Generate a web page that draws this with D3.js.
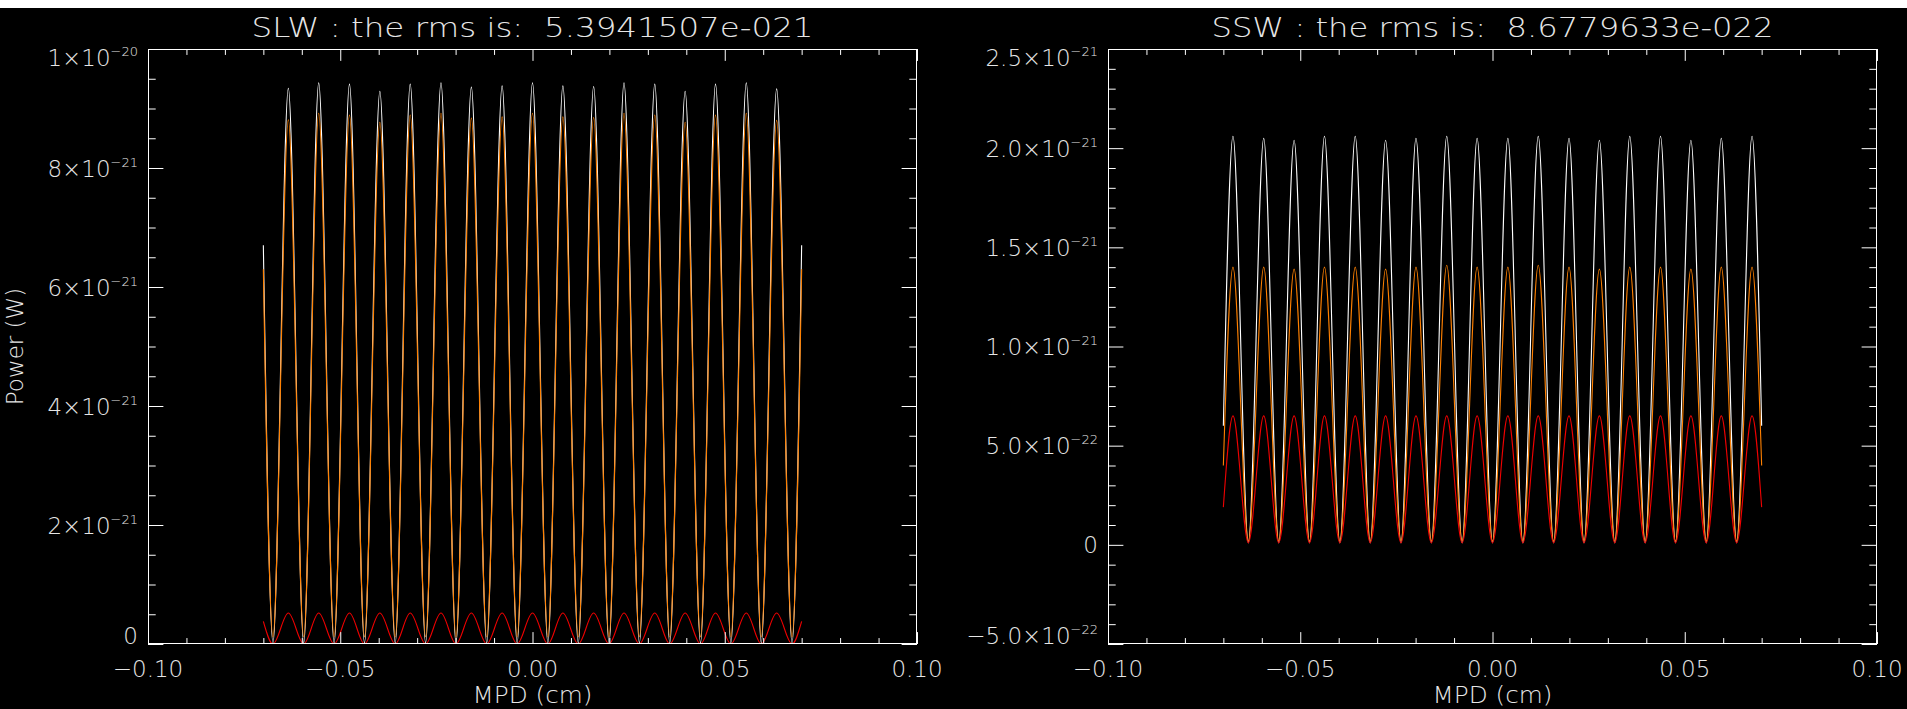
<!DOCTYPE html>
<html>
<head>
<meta charset="utf-8">
<script src="https://cdn.jsdelivr.net/npm/d3@7"></script>
<style>
html,body{margin:0;padding:0;background:#000;}
svg{display:block;}
text{font-family:"DejaVu Sans","Liberation Sans",sans-serif;font-weight:200;fill:#e6e6e6;}
</style>
</head>
<body>
<svg id="chart" width="1907" height="709"></svg>
<script>
// ---------------- DATA ----------------
// Power values are in units of 1e-21 W.
// Positions (cm) of the start, the alternating extremes and the end of each trace.
const mpdX = [-0.0700, -0.0675, -0.0635, -0.0595, -0.0556, -0.0516, -0.0476, -0.0437, -0.0397,
  -0.0357, -0.0318, -0.0278, -0.0238, -0.0199, -0.0159, -0.0119, -0.0079, -0.0040, 0.0000,
  0.0040, 0.0079, 0.0119, 0.0159, 0.0199, 0.0238, 0.0278, 0.0318, 0.0357, 0.0397, 0.0437,
  0.0476, 0.0516, 0.0556, 0.0595, 0.0635, 0.0675, 0.0700];

// SLW: troughs at -0.0675, -0.0595, ... ; peaks in between
const slwWhite = [6.70, 0.02, 9.34, 0.02, 9.43, 0.02, 9.41, 0.02, 9.29, 0.02, 9.41, 0.02, 9.43,
  0.02, 9.36, 0.02, 9.38, 0.02, 9.43, 0.02, 9.38, 0.02, 9.37, 0.02, 9.43, 0.02, 9.41, 0.02,
  9.29, 0.02, 9.41, 0.02, 9.43, 0.02, 9.33, 0.02, 6.70];
const slwOrange = [6.30, 0.12, 8.81, 0.12, 8.92, 0.12, 8.89, 0.12, 8.77, 0.12, 8.89, 0.12, 8.92,
  0.12, 8.84, 0.12, 8.86, 0.12, 8.92, 0.12, 8.86, 0.12, 8.85, 0.12, 8.92, 0.12, 8.89, 0.12,
  8.77, 0.12, 8.89, 0.12, 8.92, 0.12, 8.80, 0.12, 6.30];
const slwRed = [0.38, 0.00, 0.52, 0.00, 0.52, 0.00, 0.52, 0.00, 0.52, 0.00, 0.52, 0.00, 0.52,
  0.00, 0.52, 0.00, 0.52, 0.00, 0.52, 0.00, 0.52, 0.00, 0.52, 0.00, 0.52, 0.00, 0.52, 0.00,
  0.52, 0.00, 0.52, 0.00, 0.52, 0.00, 0.52, 0.00, 0.38];

// SSW: peaks at -0.0675, -0.0595, ... ; troughs in between
const sswWhite = [0.60, 2.06, 0.01, 2.05, 0.01, 2.04, 0.01, 2.06, 0.01, 2.06, 0.01, 2.04, 0.01,
  2.05, 0.01, 2.06, 0.01, 2.05, 0.01, 2.05, 0.01, 2.06, 0.01, 2.05, 0.01, 2.04, 0.01, 2.06,
  0.01, 2.06, 0.01, 2.04, 0.01, 2.05, 0.01, 2.06, 0.60];
const sswOrange = [0.40, 1.40, 0.02, 1.40, 0.02, 1.39, 0.02, 1.40, 0.02, 1.40, 0.02, 1.39, 0.02,
  1.40, 0.02, 1.41, 0.02, 1.40, 0.02, 1.40, 0.02, 1.41, 0.02, 1.40, 0.02, 1.39, 0.02, 1.40,
  0.02, 1.40, 0.02, 1.39, 0.02, 1.40, 0.02, 1.40, 0.40];
const sswRed = [0.19, 0.65, 0.01, 0.65, 0.01, 0.65, 0.01, 0.65, 0.01, 0.65, 0.01, 0.65, 0.01,
  0.65, 0.01, 0.65, 0.01, 0.65, 0.01, 0.65, 0.01, 0.65, 0.01, 0.65, 0.01, 0.65, 0.01, 0.65,
  0.01, 0.65, 0.01, 0.65, 0.01, 0.65, 0.01, 0.65, 0.19];

// Axis ticks and labels
const xTicks = [-0.10, -0.05, 0.00, 0.05, 0.10];
const xTickLabels = ["\u22120.10", "\u22120.05", "0.00", "0.05", "0.10"];
const slwYTicks = [0, 2, 4, 6, 8, 10];
const slwYMant = ["0", "2\u00d710", "4\u00d710", "6\u00d710", "8\u00d710", "1\u00d710"];
const slwYExp = ["", "\u221221", "\u221221", "\u221221", "\u221221", "\u221220"];
const sswYTicks = [-0.5, 0, 0.5, 1.0, 1.5, 2.0, 2.5];
const sswYMant = ["\u22125.0\u00d710", "0", "5.0\u00d710", "1.0\u00d710", "1.5\u00d710", "2.0\u00d710", "2.5\u00d710"];
const sswYExp = ["\u221222", "", "\u221222", "\u221221", "\u221221", "\u221221", "\u221221"];

const titles = ["SLW : the rms is:\u00a0\u00a05.3941507e-021", "SSW : the rms is:\u00a0\u00a08.6779633e-022"];
const xTitle = "MPD (cm)";
const yTitle = "Power (W)";

// ---------------- DRAWING ----------------
const svg = d3.select("#chart");
svg.append("rect").attr("x", 0).attr("y", 0).attr("width", 1907).attr("height", 709).attr("fill", "#000");
svg.append("rect").attr("x", 0).attr("y", 0).attr("width", 1907).attr("height", 8).attr("fill", "#fff");

const panels = [
  { left: 148, right: 917, top: 49, bottom: 644, ydom: [0, 10], yMinor: 0.5,
    yTicks: slwYTicks, yMant: slwYMant, yExp: slwYExp, title: titles[0], ytitle: true,
    series: [[slwWhite, "#ffffff"], [slwOrange, "#ff8000"], [slwRed, "#f00000"]] },
  { left: 1108, right: 1877, top: 49, bottom: 644, ydom: [-0.5, 2.5], yMinor: 0.1,
    yTicks: sswYTicks, yMant: sswYMant, yExp: sswYExp, title: titles[1], ytitle: false,
    series: [[sswWhite, "#ffffff"], [sswOrange, "#ff8000"], [sswRed, "#f00000"]] }
];

panels.forEach(p => {
  const g = svg.append("g");
  const x = d3.scaleLinear().domain([-0.10, 0.10]).range([p.left, p.right]);
  const y = d3.scaleLinear().domain(p.ydom).range([p.bottom, p.top]);
  const W = p.right - p.left, H = p.bottom - p.top;
  const xMaj = 0.02 * H, yMaj = 0.02 * W;

  // data lines (clipped to plot box)
  const clipId = "clip" + p.left;
  svg.append("clipPath").attr("id", clipId).append("rect")
    .attr("x", p.left).attr("y", p.top).attr("width", W).attr("height", H);
  const line = d3.line().x((d, i) => x(mpdX[i])).y(d => y(d)).curve(d3.curveMonotoneX);
  p.series.forEach(([vals, col]) => {
    g.append("path").datum(vals).attr("d", line)
      .attr("fill", "none").attr("stroke", col).attr("stroke-width", 1.1)
      .attr("clip-path", "url(#" + clipId + ")");
  });

  // ticks
  const xMinorVals = d3.range(-0.10, 0.1001, 0.01).filter(v => !xTicks.some(t => Math.abs(t - v) < 1e-9));
  const yMinorVals = d3.range(p.ydom[0], p.ydom[1] + 1e-9, p.yMinor).filter(v => !p.yTicks.some(t => Math.abs(t - v) < 1e-9));
  const axStyle = sel => { sel.select(".domain").remove(); sel.selectAll("line").attr("stroke", "#fff").attr("stroke-width", 1); sel.selectAll("text").remove(); };

  g.append("g").attr("transform", `translate(0,${p.bottom})`).call(d3.axisBottom(x).tickValues(xTicks).tickSizeInner(-xMaj).tickSizeOuter(0)).call(axStyle);
  g.append("g").attr("transform", `translate(0,${p.bottom})`).call(d3.axisBottom(x).tickValues(xMinorVals).tickSizeInner(-xMaj / 2).tickSizeOuter(0)).call(axStyle);
  g.append("g").attr("transform", `translate(0,${p.top})`).call(d3.axisTop(x).tickValues(xTicks).tickSizeInner(-xMaj).tickSizeOuter(0)).call(axStyle);
  g.append("g").attr("transform", `translate(0,${p.top})`).call(d3.axisTop(x).tickValues(xMinorVals).tickSizeInner(-xMaj / 2).tickSizeOuter(0)).call(axStyle);
  g.append("g").attr("transform", `translate(${p.left},0)`).call(d3.axisLeft(y).tickValues(p.yTicks).tickSizeInner(-yMaj).tickSizeOuter(0)).call(axStyle);
  g.append("g").attr("transform", `translate(${p.left},0)`).call(d3.axisLeft(y).tickValues(yMinorVals).tickSizeInner(-yMaj / 2).tickSizeOuter(0)).call(axStyle);
  g.append("g").attr("transform", `translate(${p.right},0)`).call(d3.axisRight(y).tickValues(p.yTicks).tickSizeInner(-yMaj).tickSizeOuter(0)).call(axStyle);
  g.append("g").attr("transform", `translate(${p.right},0)`).call(d3.axisRight(y).tickValues(yMinorVals).tickSizeInner(-yMaj / 2).tickSizeOuter(0)).call(axStyle);

  // box
  g.append("rect").attr("x", p.left + 0.5).attr("y", p.top + 0.5).attr("width", W - 1).attr("height", H - 1)
    .attr("fill", "none").attr("stroke", "#fff").attr("stroke-width", 1);

  // x tick labels
  g.selectAll(".xl").data(xTicks).enter().append("text")
    .attr("x", d => x(d)).attr("y", p.bottom + 33).attr("text-anchor", "middle")
    .attr("font-size", 23).text((d, i) => xTickLabels[i]);

  // y tick labels
  p.yTicks.forEach((v, i) => {
    const base = Math.max(p.top + 16.5, Math.min(p.bottom, y(v) + 8.5));
    const t = g.append("text").attr("x", p.left - 10).attr("y", base).attr("text-anchor", "end").attr("font-size", 23);
    t.append("tspan").text(p.yMant[i]);
    if (p.yExp[i]) t.append("tspan").attr("font-size", 13).attr("dy", -10).text(p.yExp[i]);
  });

  // titles
  g.append("text").attr("x", (p.left + p.right) / 2).attr("y", 37).attr("text-anchor", "middle")
    .attr("font-size", 27).attr("textLength", 562).attr("lengthAdjust", "spacingAndGlyphs").text(p.title);
  g.append("text").attr("x", (p.left + p.right) / 2).attr("y", 703).attr("text-anchor", "middle")
    .attr("font-size", 23).attr("textLength", 120).attr("lengthAdjust", "spacingAndGlyphs").text(xTitle);
  if (p.ytitle) {
    g.append("text").attr("transform", `translate(23,${(p.top + p.bottom) / 2}) rotate(-90)`)
      .attr("text-anchor", "middle").attr("font-size", 23).text(yTitle);
  }
});
</script>
</body>
</html>
